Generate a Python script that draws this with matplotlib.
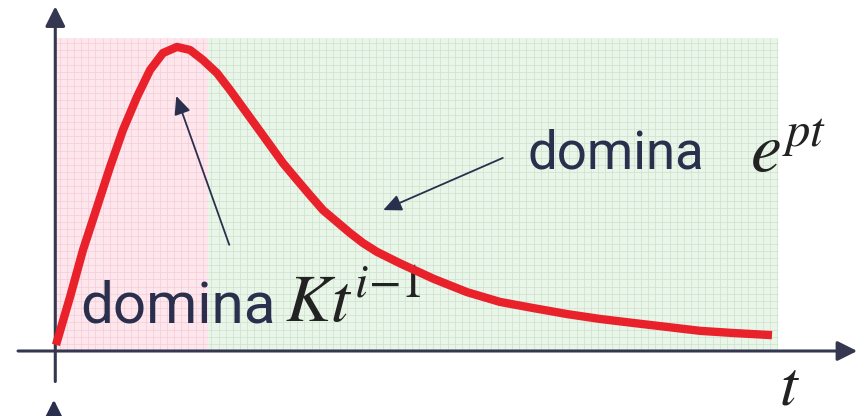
import numpy as np
import matplotlib.pyplot as plt

# curve (t in arbitrary units, y normalised to the peak)
t_pts = [0.0, 0.196, 0.377, 0.573, 0.754, 0.936, 1.131, 1.313, 1.494, 1.690,
         1.872, 2.053, 2.249, 2.430, 2.612, 2.807, 2.989, 3.170, 3.366, 3.547,
         3.729, 3.925, 4.106, 4.288, 4.483, 4.80, 5.27, 5.74, 6.20, 6.66, 7.14,
         7.60, 8.06, 8.53, 9.00, 9.46, 10.0]
y_pts = [0.02, 0.177, 0.331, 0.472, 0.603, 0.725, 0.833, 0.921, 0.977, 0.997,
         0.987, 0.954, 0.911, 0.856, 0.797, 0.734, 0.675, 0.616, 0.561, 0.511,
         0.462, 0.423, 0.387, 0.354, 0.325, 0.288, 0.237, 0.193, 0.161, 0.141,
         0.121, 0.105, 0.092, 0.079, 0.066, 0.059, 0.052]

# shaded zones: first one where K t^(i-1) dominates, second where e^(pt) dominates
zone_edges = [0.0, 2.12, 10.08]
zone_top = 1.026

plt.rcParams['mathtext.fontset'] = 'stix'

fig = plt.figure(figsize=(8.58, 4.16), dpi=100)
ax = fig.add_axes([0, 0, 1, 1])
ax.set_xlim(-56 / 71.6, 802 / 71.6)
ax.set_ylim(-65 / 305, 351 / 305)
ax.axis('off')

navy = '#2b2f4e'
zone_bg = ['#fde6ec', '#e8f5e8']
zone_grid = ['#f4ccd7', '#cbe2cb']
step_t = 0.1
step_y = step_t * 71.6 / 305

for i in range(2):
    a, b = zone_edges[i], zone_edges[i + 1]
    ax.fill_between([a, b], 0, zone_top, color=zone_bg[i], lw=0, zorder=0)
    xs = np.arange(a + step_t / 2, b, step_t)
    ys = np.arange(step_y, zone_top, step_y)
    ax.vlines(xs, 0, zone_top, colors=zone_grid[i], lw=0.5, zorder=1)
    ax.hlines(ys, a, b, colors=zone_grid[i], lw=0.5, zorder=1)

# axes with arrows
axis_kw = dict(arrowstyle='-|>,head_length=0.6,head_width=0.3', color='#34374f',
               lw=2.2, shrinkA=0, shrinkB=0, mutation_scale=20)
ax.annotate('', xy=(11.19, 0), xytext=(-0.53, 0), arrowprops=axis_kw, zorder=3)
ax.annotate('', xy=(-0.01, 1.13), xytext=(-0.01, -0.10), arrowprops=axis_kw, zorder=3)
# arrow of the next plot, cut by the bottom edge
ax.annotate('', xy=(-0.03, -0.16), xytext=(-0.03, -0.40),
            arrowprops=dict(axis_kw, color=navy), zorder=3)

# labels
ax.text(0.335, 0.095, 'domina', fontsize=42, family='Roboto', color=navy,
        ha='left', va='baseline', zorder=2)
ax.text(3.2, 0.095, r'$Kt^{i{-}1}$', fontsize=49, color='#222222',
        ha='left', va='baseline', zorder=2)
ax.text(6.58, 0.597, 'domina', fontsize=38, family='Roboto', color=navy,
        ha='left', va='baseline', zorder=2)
ax.text(9.69, 0.587, r'$e^{pt}$', fontsize=50, color='#222222',
        ha='left', va='baseline', zorder=2)
ax.text(10.1, -0.174, 't', fontsize=46, family='STIXGeneral', style='italic',
        color='#222222', ha='left', va='baseline', zorder=2)

# pointer arrows
ptr_kw = dict(arrowstyle='-|>,head_length=0.55,head_width=0.25', color=navy,
              lw=1.3, shrinkA=0, shrinkB=0, mutation_scale=20)
ax.annotate('', xy=(1.68, 0.836), xytext=(2.42, 0.348), arrowprops=ptr_kw, zorder=3)
ax.annotate('', xy=(4.57, 0.462), xytext=(6.24, 0.633), arrowprops=ptr_kw, zorder=3)

# the response curve
ax.plot(t_pts, y_pts, color='#e8212b', lw=6, solid_capstyle='butt',
        solid_joinstyle='round', zorder=4)

fig.savefig('out.png', dpi=100)
